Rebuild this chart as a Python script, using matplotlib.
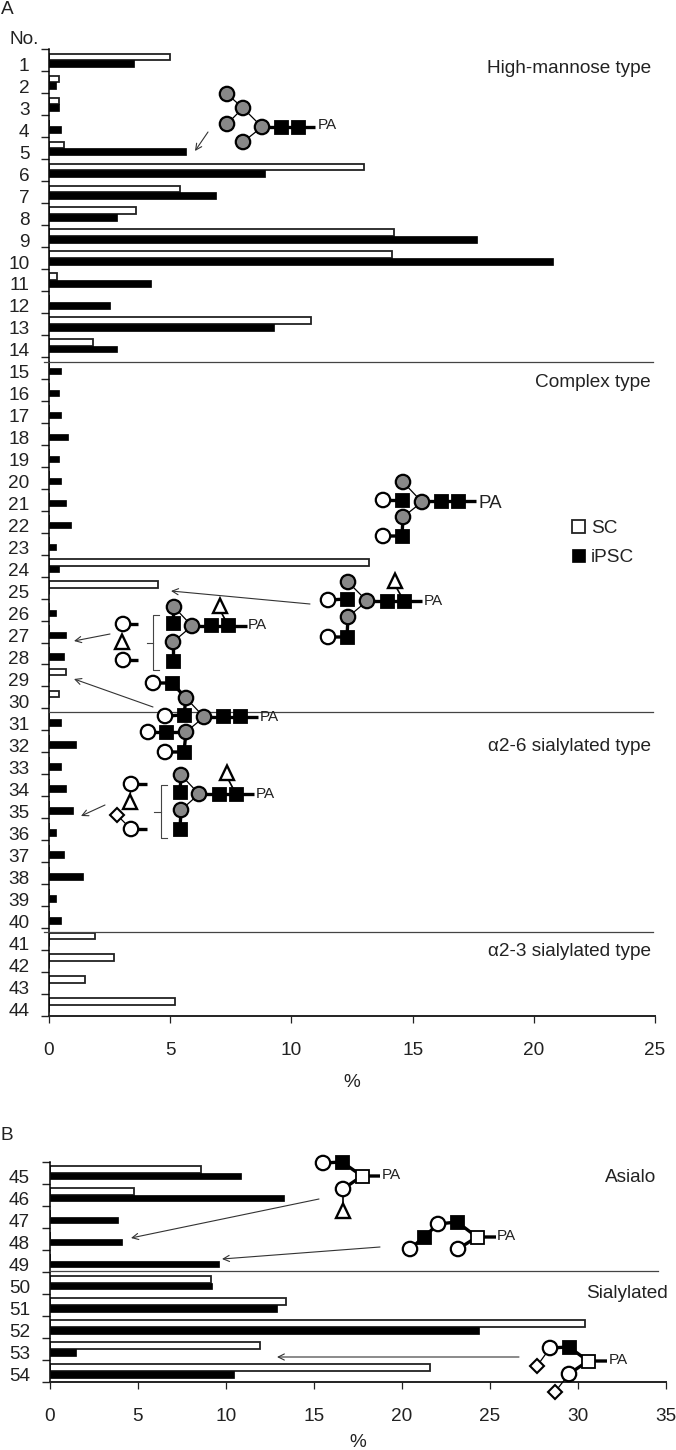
import matplotlib
matplotlib.use("Agg")
import matplotlib.pyplot as plt
from matplotlib.patches import Circle, Rectangle, Polygon
from matplotlib.transforms import ScaledTranslation

plt.rcParams['font.family'] = ['Liberation Sans', 'DejaVu Sans']

W, H = 676, 1450
FS = 13.7

# === DATA ===
numbers_a = list(range(1, 45))
sc_a = [5.0, 0.4, 0.4, 0, 0.6, 13.0, 5.4, 3.6, 14.25, 14.15, 0.35, 0, 10.8, 1.8,
        0, 0, 0, 0, 0, 0, 0, 0, 0, 13.2, 4.5, 0, 0, 0, 0.7, 0.4,
        0, 0, 0, 0, 0, 0, 0, 0, 0, 0, 1.9, 2.7, 1.5, 5.2]
ipsc_a = [3.5, 0.3, 0.4, 0.5, 5.65, 8.9, 6.9, 2.8, 17.65, 20.8, 4.2, 2.5, 9.3, 2.8,
          0.5, 0.4, 0.5, 0.8, 0.4, 0.5, 0.7, 0.9, 0.3, 0.4, 0, 0.3, 0.7, 0.6, 0, 0,
          0.5, 1.1, 0.5, 0.7, 1.0, 0.3, 0.6, 1.4, 0.3, 0.5, 0, 0, 0, 0]
numbers_b = list(range(45, 55))
sc_b = [8.6, 4.8, 0, 0, 0, 9.15, 13.4, 30.4, 11.95, 21.6]
ipsc_b = [10.9, 13.3, 3.9, 4.1, 9.6, 9.2, 12.9, 24.4, 1.5, 10.5]
ticks_a = [0, 5, 10, 15, 20, 25]
ticks_b = [0, 5, 10, 15, 20, 25, 30, 35]


def axes_px(fig, left, top, right, bottom):
    return fig.add_axes([left / W, 1 - bottom / H, (right - left) / W, (bottom - top) / H])


def draw_bars(ax, numbers, sc, ipsc, xticks):
    pos = [i + 0.5 for i in range(len(numbers))]
    white = ax.barh([p - 0.15 for p in pos], sc, height=0.3, color='white',
                    edgecolor='#222222', linewidth=1.3, label='SC')
    black = ax.barh([p + 0.15 for p in pos], ipsc, height=0.3, color='black',
                    edgecolor='black', linewidth=0.5, label='iPSC')
    ax.set_ylim(len(numbers), 0)
    ax.set_xlim(xticks[0], xticks[-1])
    ax.set_xticks(xticks)
    ax.set_yticks(range(len(numbers) + 1))
    ax.set_yticklabels([])
    ax.set_yticks(pos, minor=True)
    ax.set_yticklabels(numbers, minor=True)
    ax.tick_params(axis='y', which='major', length=5.5, width=1, direction='out', color='#222222')
    ax.tick_params(axis='y', which='minor', length=0, pad=14, labelsize=FS, labelcolor='#222222')
    ax.tick_params(axis='x', length=5, width=0.9, direction='out', pad=13.5, labelsize=FS,
                   color='#222222', labelcolor='#222222')
    # labels sit a little under the middle of each band
    shift = ScaledTranslation(0, -4 / 100, ax.figure.dpi_scale_trans)
    for lab in ax.get_yticklabels(minor=True):
        lab.set_transform(lab.get_transform() + shift)
    ax.spines['top'].set_visible(False)
    ax.spines['right'].set_visible(False)
    ax.spines['left'].set_linewidth(1.1)
    ax.spines['bottom'].set_linewidth(1.4)
    ax.spines['bottom'].set_color('#222222')
    ax.set_xlabel('%', fontsize=FS, color='#222222')
    return white, black


def link(ov, pts, lw=2.4):
    xs, ys = zip(*pts)
    ov.plot(xs, ys, color='black', lw=lw, solid_capstyle='butt', zorder=3)


def circles(ov, pts, grey=False):
    for x, y in pts:
        ov.add_patch(Circle((x, y), 7.2, fc='#888888' if grey else 'white',
                            ec='black', lw=1.6, zorder=4))


def squares(ov, pts, filled=True):
    for x, y in pts:
        ov.add_patch(Rectangle((x - 6.5, y - 6.5), 13, 13, fc='black' if filled else 'white',
                               ec='black', lw=1.3, zorder=4))


def triangle(ov, x, y):
    ov.add_patch(Polygon([(x, y - 7.5), (x - 7, y + 7), (x + 7, y + 7)], closed=True,
                         fc='white', ec='black', lw=1.7, zorder=4))


def diamond(ov, x, y):
    ov.add_patch(Polygon([(x, y - 7), (x + 7, y), (x, y + 7), (x - 7, y)], closed=True,
                         fc='white', ec='black', lw=1.5, zorder=4))


def arrow(ov, start, end):
    ov.annotate('', xy=end, xytext=start,
                arrowprops=dict(arrowstyle='->', color='#333333', lw=0.8, shrinkA=0, shrinkB=0,
                                mutation_scale=11), zorder=5)


def pa(ov, x, y, size=11):
    ov.text(x, y, 'PA', fontsize=size, ha='left', va='center', color='#222222', zorder=5)


def bracket(ov, x0, x1, y0, y1, tick_x, tick_y):
    ov.plot([x1, x0, x0, x1], [y0, y0, y1, y1], color='#444444', lw=0.8, zorder=3)
    ov.plot([tick_x, x0], [tick_y, tick_y], color='#444444', lw=0.8, zorder=3)


def main():
    fig = plt.figure(figsize=(W / 100, H / 100), dpi=100)

    ax_a = axes_px(fig, 49, 49.3, 655, 1016)
    white, black = draw_bars(ax_a, numbers_a, sc_a, ipsc_a, ticks_a)
    ax_b = axes_px(fig, 49.5, 1161.7, 666, 1382)
    draw_bars(ax_b, numbers_b, sc_b, ipsc_b, ticks_b)
    ax_a.xaxis.labelpad = 11
    ax_b.xaxis.labelpad = 7

    ax_a.legend([white, black], ['SC', 'iPSC'], frameon=False, fontsize=FS, handlelength=0.7,
                handleheight=0.7, handletextpad=0.3, labelspacing=0.62, borderpad=0, borderaxespad=0,
                loc='upper left', bbox_to_anchor=(572 / W, 1 - 520 / H),
                bbox_transform=fig.transFigure, labelcolor='#222222')

    ov = fig.add_axes([0, 0, 1, 1], zorder=10)
    ov.set_xlim(0, W)
    ov.set_ylim(H, 0)
    ov.axis('off')

    # section lines
    for y, x0, x1 in [(362, 44, 653), (712, 49, 653), (931.5, 44, 653), (1271, 49, 658)]:
        ov.plot([x0, x1], [y, y], color='#444444', lw=0.9, zorder=2)

    ov.text(7, 9, 'A', fontsize=FS, ha='center', va='center', color='#222222')
    ov.text(7, 1135, 'B', fontsize=FS, ha='center', va='center', color='#222222')
    ov.text(24, 39, 'No.', fontsize=FS, ha='center', va='center', color='#222222')
    for txt, x, y in [('High-mannose type', 651, 68), ('Complex type', 651, 382),
                      ('\u03b12-6 sialylated type', 651, 746), ('\u03b12-3 sialylated type', 651, 951),
                      ('Asialo', 656, 1178), ('Sialylated', 668, 1293)]:
        ov.text(x, y, txt, fontsize=FS, ha='right', va='center', color='#222222')

    # high-mannose structure
    link(ov, [(227, 94), (243, 108), (262, 127)], 0.9)
    link(ov, [(227, 124), (243, 108)], 0.9)
    link(ov, [(243, 142), (262, 127)], 0.9)
    link(ov, [(262, 127), (315, 127)])
    circles(ov, [(227, 94), (243, 108), (227, 124), (262, 127), (243, 142)], grey=True)
    squares(ov, [(281, 127), (298, 127)])
    pa(ov, 318, 125)
    arrow(ov, (208, 132), (195, 151))

    # complex biantennary
    link(ov, [(403, 482), (422, 502), (403, 517)], 0.9)
    link(ov, [(422, 501), (476, 501)])
    link(ov, [(383, 500), (402, 500)])
    link(ov, [(383, 536), (402, 536), (403, 517)])
    circles(ov, [(403, 482), (422, 502), (403, 517)], grey=True)
    squares(ov, [(402, 500), (402, 536), (441, 501), (458, 501)])
    circles(ov, [(383, 500), (383, 536)])
    pa(ov, 478, 503, 13.5)

    # with fucose
    link(ov, [(348, 582), (367, 601), (348, 617)], 0.9)
    link(ov, [(367, 601), (422, 601)])
    link(ov, [(328, 600), (347, 599)])
    link(ov, [(328, 637), (347, 637), (348, 617)])
    link(ov, [(395, 585), (404, 601)], 1.2)
    circles(ov, [(348, 582), (367, 601), (348, 617)], grey=True)
    squares(ov, [(347, 599), (347, 637), (387, 601), (404, 601)])
    circles(ov, [(328, 600), (328, 637)])
    triangle(ov, 395, 581)
    pa(ov, 424, 601)
    arrow(ov, (310, 604), (171, 591))

    # bracketed fucosylated
    link(ov, [(174, 607), (192, 626), (173, 642)], 0.9)
    link(ov, [(192, 626), (247, 626)])
    link(ov, [(173, 642), (173, 661)])
    link(ov, [(174, 607), (173, 623)])
    link(ov, [(220, 610), (228, 625)], 1.2)
    circles(ov, [(174, 607), (192, 626), (173, 642)], grey=True)
    squares(ov, [(173, 623), (173, 661), (211, 625), (228, 625)])
    triangle(ov, 220, 606)
    pa(ov, 248, 625)
    bracket(ov, 153, 159, 615, 670, 147, 643)
    link(ov, [(123, 624), (138, 624)])
    link(ov, [(123, 660), (138, 660)])
    circles(ov, [(123, 624), (123, 660)])
    triangle(ov, 122, 642)
    arrow(ov, (110, 634), (74, 641))

    # triantennary
    link(ov, [(153, 683), (172, 683), (186, 698)])
    link(ov, [(186, 698), (204, 717), (186, 732)], 0.9)
    link(ov, [(186, 698), (184, 715)])
    link(ov, [(165, 716), (184, 715)])
    link(ov, [(204, 717), (258, 717)])
    link(ov, [(148, 732), (186, 732)])
    link(ov, [(186, 732), (184, 752), (165, 752)])
    circles(ov, [(186, 698), (204, 717), (186, 732)], grey=True)
    squares(ov, [(172, 683), (184, 715), (223, 716), (240, 716), (166, 732), (184, 752)])
    circles(ov, [(153, 683), (165, 716), (148, 732), (165, 752)])
    pa(ov, 260, 717)
    arrow(ov, (153, 707), (74, 679))

    # bracketed sialylated
    link(ov, [(181, 775), (199, 794), (181, 810)], 0.9)
    link(ov, [(199, 794), (254, 794)])
    link(ov, [(181, 775), (180, 792)])
    link(ov, [(181, 810), (180, 829)])
    link(ov, [(227, 777), (236, 794)], 1.2)
    circles(ov, [(181, 775), (199, 794), (181, 810)], grey=True)
    squares(ov, [(180, 792), (180, 829), (219, 794), (236, 794)])
    triangle(ov, 227, 773)
    pa(ov, 256, 794)
    bracket(ov, 161, 167, 785, 838, 154, 812)
    link(ov, [(131, 784), (147, 784)])
    link(ov, [(131, 829), (147, 829)])
    link(ov, [(117, 815), (131, 829)], 0.9)
    link(ov, [(131, 784), (130, 802)], 0.9)
    circles(ov, [(131, 784), (131, 829)])
    triangle(ov, 130, 802)
    diamond(ov, 117, 815)
    arrow(ov, (105, 805), (81, 816))

    # panel B structures
    link(ov, [(323, 1163), (342, 1162), (362, 1176), (380, 1176)])
    link(ov, [(343, 1189), (362, 1176)])
    link(ov, [(343, 1189), (343, 1211)], 1.2)
    squares(ov, [(342, 1162)])
    squares(ov, [(362, 1176)], filled=False)
    circles(ov, [(323, 1163), (343, 1189)])
    triangle(ov, 343, 1211)
    pa(ov, 382, 1175)
    arrow(ov, (319, 1199), (131, 1238))

    link(ov, [(410, 1249), (424, 1237), (438, 1224), (457, 1222), (477, 1237), (496, 1237)])
    link(ov, [(458, 1249), (477, 1237)])
    squares(ov, [(424, 1237), (457, 1222)])
    squares(ov, [(477, 1237)], filled=False)
    circles(ov, [(410, 1249), (438, 1224), (458, 1249)])
    pa(ov, 497, 1236)
    arrow(ov, (380, 1247), (222, 1259))

    link(ov, [(550, 1348), (569, 1347), (588, 1361), (607, 1361)])
    link(ov, [(569, 1374), (588, 1361)])
    link(ov, [(537, 1366), (550, 1348)], 0.9)
    link(ov, [(555, 1392), (569, 1374)], 0.9)
    squares(ov, [(569, 1347)])
    squares(ov, [(588, 1361)], filled=False)
    circles(ov, [(550, 1348), (569, 1374)])
    diamond(ov, 537, 1366)
    diamond(ov, 555, 1392)
    pa(ov, 609, 1360)
    arrow(ov, (519, 1357), (277, 1357))

    fig.savefig('out.png', dpi=100)


if __name__ == "__main__":
    main()
